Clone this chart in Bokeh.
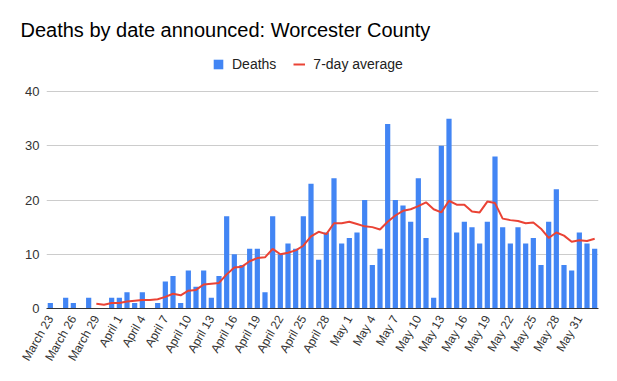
import math
from bokeh.plotting import figure
from bokeh.models import ColumnDataSource, Range1d, FixedTicker, Legend, LegendItem
from bokeh.embed import file_html
from bokeh.resources import INLINE

# ---- data ----
tick_labels = ["March 23", "March 26", "March 29", "April 1", "April 4", "April 7",
               "April 10", "April 13", "April 16", "April 19", "April 22", "April 25",
               "April 28", "May 1", "May 4", "May 7", "May 10", "May 13", "May 16",
               "May 19", "May 22", "May 25", "May 28", "May 31"]

# daily deaths, March 23 .. June 2 (one value per day)
deaths = [1, 0, 2, 1, 0, 2, 0, 0, 2, 2,
          3, 1, 3, 0, 1, 5, 6, 1, 7, 4,
          7, 2, 6, 17, 10, 8, 11, 11, 3, 17,
          10, 12, 11, 17, 23, 9, 14, 24, 12, 13,
          14, 20, 8, 11, 34, 20, 19, 16, 24, 13,
          2, 30, 35, 14, 16, 15, 12, 16, 28, 15,
          12, 15, 12, 13, 8, 16, 22, 8, 7, 14,
          12, 11]

# 7-day average, starting March 29
avg7 = [0.86, 0.71, 1.0, 1.0, 1.29, 1.43, 1.57, 1.57, 1.71, 2.14,
        2.71, 2.43, 3.29, 3.43, 4.43, 4.57, 4.71, 6.29, 7.57, 7.71,
        8.71, 9.29, 9.43, 11.0, 10.0, 10.29, 10.71, 11.57, 13.29, 14.14,
        13.71, 15.71, 15.71, 16.0, 15.57, 15.14, 15.0, 14.57, 16.0, 17.14,
        18.0, 18.29, 18.86, 19.57, 18.29, 17.71, 19.86, 19.14, 19.14, 17.86,
        17.71, 19.71, 19.43, 16.57, 16.29, 16.14, 15.71, 15.86, 14.71, 13.0,
        14.0, 13.43, 12.29, 12.57, 12.43, 12.86]

y_ticks = [0, 10, 20, 30, 40]

days = list(range(len(deaths)))
tick_pos = days[0:len(days):3][:len(tick_labels)]
avg_days = days[len(days) - len(avg7):]

FONT = "Liberation Sans"
BLUE = "#4285F4"
RED = "#EA4335"

# frame: left 46, right 598, top 50, bottom 308 (gridline 40 at y=91)
frame_top, grid_top, frame_bottom = 50, 91, 308
y_max = y_ticks[-1] * (frame_bottom - frame_top) / (frame_bottom - grid_top)

p = figure(width=617, height=381, output_backend="svg", toolbar_location=None,
           x_range=Range1d(-0.5, len(days) - 0.5), y_range=Range1d(0, y_max),
           min_border_left=46, min_border_right=19, min_border_top=frame_top,
           min_border_bottom=381 - frame_bottom)
p.outline_line_color = None
p.background_fill_color = "white"
p.border_fill_color = "white"

p.title.text = "Deaths by date announced: Worcester County"
p.title.text_font = FONT
p.title.text_font_size = "20px"
p.title.text_font_style = "normal"
p.title.text_color = "#000000"
p.title.align = "left"
p.title.offset = -26
p.title.standoff = 20

bar_src = ColumnDataSource(dict(x=days, y=deaths))
line_src = ColumnDataSource(dict(x=avg_days, y=avg7))

bars = p.vbar(x="x", top="y", width=0.68, source=bar_src, fill_color=BLUE,
              line_color=None)
line = p.line(x="x", y="y", source=line_src, line_color=RED, line_width=2)

# axes
p.xaxis.ticker = FixedTicker(ticks=tick_pos)
p.xaxis.major_label_overrides = {t: l for t, l in zip(tick_pos, tick_labels)}
p.xaxis.major_label_orientation = math.pi / 3
p.xaxis.major_label_text_font = FONT
p.xaxis.major_label_text_font_size = "12px"
p.xaxis.major_label_text_color = "#333333"
p.xaxis.major_tick_line_color = None
p.xaxis.major_tick_out = 0
p.xaxis.major_tick_in = 0
p.xaxis.minor_tick_line_color = None
p.xaxis.axis_line_color = "#333333"
p.xaxis.axis_line_width = 1
p.xaxis.major_label_standoff = 8

p.yaxis.ticker = FixedTicker(ticks=y_ticks)
p.yaxis.major_label_text_font = FONT
p.yaxis.major_label_text_font_size = "13px"
p.yaxis.major_label_text_color = "#333333"
p.yaxis.major_tick_line_color = None
p.yaxis.major_tick_out = 0
p.yaxis.major_tick_in = 0
p.yaxis.minor_tick_line_color = None
p.yaxis.axis_line_color = None
p.yaxis.major_label_standoff = 7

p.xgrid.grid_line_color = None
p.ygrid.grid_line_color = "#cccccc"
p.ygrid.grid_line_width = 1

# legend (inside the upper, empty part of the frame)
legend = Legend(items=[LegendItem(label="Deaths", renderers=[bars]),
                       LegendItem(label="7-day average", renderers=[line])],
                orientation="horizontal", location=(166, 236),
                padding=0, margin=0, spacing=17, label_standoff=8,
                glyph_width=12, glyph_height=12, label_height=14,
                border_line_color=None, background_fill_alpha=0,
                label_text_font=FONT, label_text_font_size="14px",
                label_text_color="#222222")
p.add_layout(legend, "center")

open("out.html", "w").write(file_html(p, INLINE))
